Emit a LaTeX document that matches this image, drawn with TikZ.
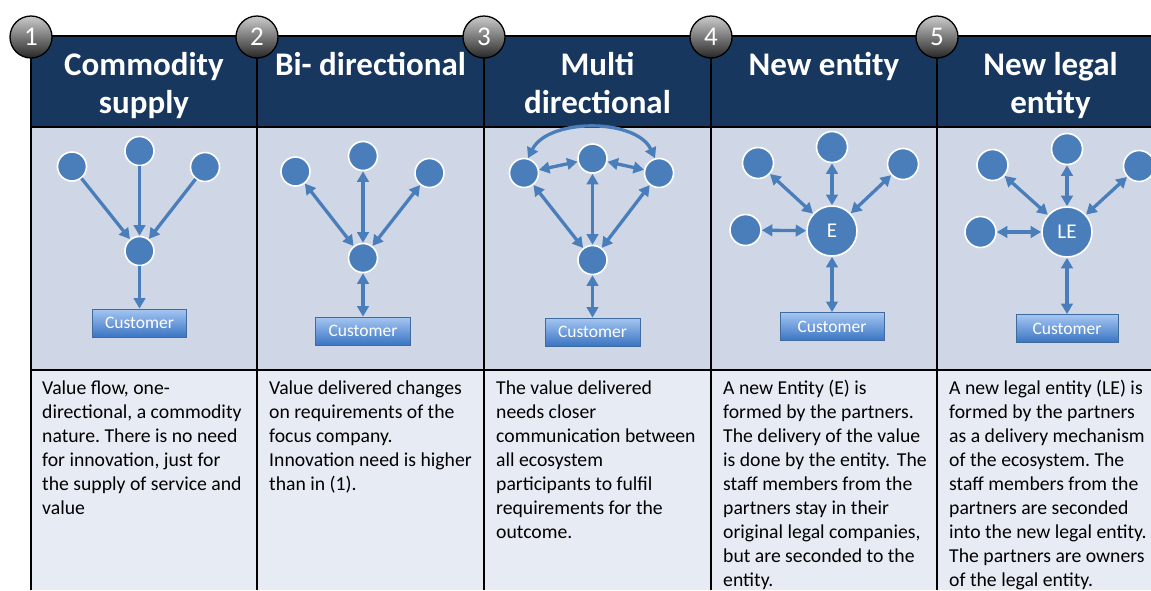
\documentclass[tikz,border=0pt]{standalone}
\usepackage{fontspec}
\setmainfont{Carlito}
\usetikzlibrary{arrows.meta}
\definecolor{hdr}{HTML}{17375E}
\definecolor{diag}{HTML}{CFD7E6}
\definecolor{txtbg}{HTML}{E7EBF3}
\definecolor{nblue}{HTML}{4A7EBB}
\definecolor{custtop}{HTML}{A5C6F2}
\definecolor{custbot}{HTML}{3A74C2}
\frenchspacing
\begin{document}
\begin{tikzpicture}[x=1pt,y=-1pt,
  pn/.style={circle, fill=nblue, draw=white, line width=1.6pt, minimum size=29pt, inner sep=0pt},
  pnb/.style={pn, minimum size=31pt},
  bign/.style={circle, fill=nblue, draw=white, line width=1.6pt, minimum size=50pt, inner sep=0pt, text=white, font=\fontsize{21}{24}\selectfont},
  cust/.style={rectangle, top color=custtop, bottom color=custbot, draw=nblue!85!black, line width=0.8pt, minimum height=28pt, inner sep=0pt, text=white, font=\fontsize{17.5}{20}\selectfont},
  flow/.style={draw=nblue, line width=3.3pt, -{Triangle[length=10.5pt,width=11.5pt]}},
  both/.style={draw=nblue, line width=3.3pt, {Triangle[length=10.5pt,width=11.5pt]}-{Triangle[length=10.5pt,width=11.5pt]}},
  hd/.style={anchor=north, inner sep=0pt, align=center, text=white, font=\bfseries\fontsize{33}{38}\selectfont},
  body/.style={anchor=north west, inner sep=0pt, align=left, text=black, font=\fontsize{19.7}{24}\selectfont},
  ball/.style={circle, minimum size=42pt, inner sep=0pt, draw=black, line width=1.3pt, top color=gray!40, bottom color=black!85, text=white, font=\fontsize{27}{30}\selectfont},
  grid/.style={draw=black, line width=1.3pt},
  rowline/.style={draw=black, line width=2pt}
]
\useasboundingbox (0,0) rectangle (1151,590);
% table backgrounds
\fill[hdr] (31,36) rectangle (1151,127);
\fill[diag] (31,127) rectangle (1151,370);
\fill[txtbg] (31,370) rectangle (1151,590);
% grid lines
\draw[grid] (31,36) -- (1151,36);
\foreach \cx in {31,257,484,711,937} {\draw[grid] (\cx,36) -- (\cx,590);}
\draw[rowline] (31,127) -- (1151,127);
\draw[rowline] (31,370) -- (1151,370);

% headers
\node[hd] (h1) at (144,47) {\rule{0pt}{28pt}Commodity\\supply};
\node[hd] (h2) at (370.5,47) {\rule{0pt}{28pt}Bi- directional};
\node[hd] (h3) at (597.5,47) {\rule{0pt}{28pt}Multi\\directional};
\node[hd] (h4) at (824,47) {\rule{0pt}{28pt}New entity};
\node[hd] (h5) at (1050.5,47) {\rule{0pt}{28pt}New legal\\entity};

% column 1
\node[pn] (a1) at (72,166.5) {};
\node[pn] (a2) at (139.5,151) {};
\node[pn] (a3) at (205,167) {};
\node[pn] (ac) at (139.5,251) {};
\node[cust, minimum width=94pt] (acu) at (139.5,323) {Customer};
\draw[flow] (a1) -- (ac);
\draw[flow] (a2) -- (ac);
\draw[flow] (a3) -- (ac);
\draw[flow] (ac) -- (acu);

% column 2
\node[pn] (b1) at (295.5,171.5) {};
\node[pn] (b2) at (363,156) {};
\node[pn] (b3) at (429.5,173) {};
\node[pn] (bc) at (363,258) {};
\node[cust, minimum width=95pt] (bcu) at (363,331) {Customer};
\draw[both] (b1) -- (bc);
\draw[both] (b2) -- (bc);
\draw[both] (b3) -- (bc);
\draw[both] (bc) -- (bcu);

% column 3
\node[pn] (c1) at (524,173) {};
\node[pn] (c2) at (592.5,158.5) {};
\node[pn] (c3) at (659,173) {};
\node[pn] (cc) at (592.5,260) {};
\node[cust, minimum width=95pt] (ccu) at (592.5,332) {Customer};
\draw[both] (c1) -- (c2);
\draw[both] (c2) -- (c3);
\draw[both] (c1) -- (cc);
\draw[both] (c2) -- (cc);
\draw[both] (c3) -- (cc);
\draw[both] (cc) -- (ccu);
\draw[both] (c1.75) .. controls (548,118) and (636,118) .. (c3.105);

% column 4
\node[pnb] (d1) at (758,163) {};
\node[pnb] (d2) at (832,147) {};
\node[pnb] (d3) at (903,164) {};
\node[pnb] (d4) at (745.5,230) {};
\node[bign] (de) at (832,231) {E};
\node[cust, minimum width=104pt] (dcu) at (832,326.5) {Customer};
\draw[both] (d1) -- (de);
\draw[both] (d2) -- (de);
\draw[both] (d3) -- (de);
\draw[both] (d4) -- (de);
\draw[both] (de) -- (dcu);

% column 5
\node[pnb] (e1) at (992.5,165) {};
\node[pnb] (e2) at (1067,149) {};
\node[pnb] (e3) at (1139,166) {};
\node[pnb] (e4) at (980.5,232) {};
\node[bign] (ee) at (1067,232) {LE};
\node[cust, minimum width=102pt] (ecu) at (1067,328.5) {Customer};
\draw[both] (e1) -- (ee);
\draw[both] (e2) -- (ee);
\draw[both] (e3) -- (ee);
\draw[both] (e4) -- (ee);
\draw[both] (ee) -- (ecu);

% body texts
\node[body] (t1) at (42,377) {\rule{0pt}{17pt}Value flow, one-\\directional, a commodity\\nature. There is no need\\for innovation, just for\\the supply of service and\\value};
\node[body] (t2) at (269,377) {\rule{0pt}{17pt}Value delivered changes\\on requirements of the\\focus company.\\Innovation need is higher\\than in (1).};
\node[body] (t3) at (496,377) {\rule{0pt}{17pt}The value delivered\\needs closer\\communication between\\all ecosystem\\participants to fulfil\\requirements for the\\outcome.};
\node[body] (t4) at (723,377) {\rule{0pt}{17pt}A new Entity (E) is\\formed by the partners.\\The delivery of the value\\is done by the entity.\hspace{0.12em}\ The\\staff members from the\\partners stay in their\\original legal companies,\\but are seconded to the\\entity.};
\node[body] (t5) at (949,377) {\rule{0pt}{17pt}A new legal entity (LE) is\\formed by the partners\\as a delivery mechanism\\of the ecosystem. The\\staff members from the\\partners are seconded\\into the new legal entity.\\The partners are owners\\of the legal entity.};

% numbered balls
\node[ball] (n1) at (31,37) {1};
\node[ball] (n2) at (257,37) {2};
\node[ball] (n3) at (484,37) {3};
\node[ball] (n4) at (711,37) {4};
\node[ball] (n5) at (937,37) {5};
\end{tikzpicture}
\end{document}
